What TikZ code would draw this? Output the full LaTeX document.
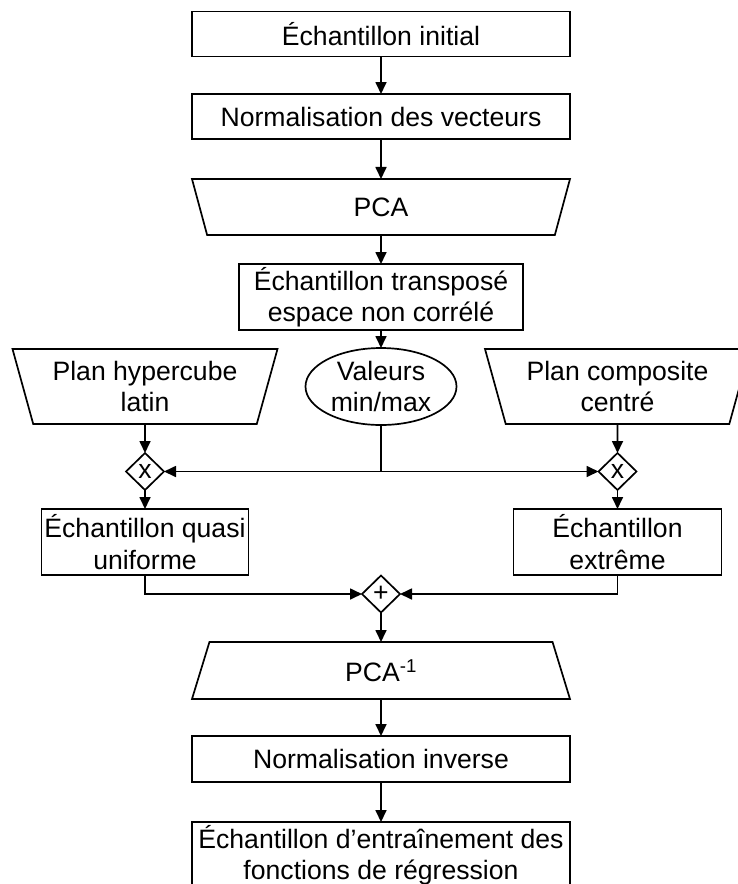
\documentclass[tikz,border=0pt]{standalone}
\usepackage{fontspec}
\setmainfont{Liberation Sans}
\usetikzlibrary{arrows.meta, positioning, shapes.geometric}

\begin{document}
\begin{tikzpicture}[
    x=1pt, y=-1pt,
    line width=1.7pt,
    every node/.style={font=\fontsize{26.6}{31.5}\selectfont, outer sep=0pt},
    box/.style={draw, minimum width=378pt, minimum height=45pt,
                inner sep=0pt, align=center},
    tallbox/.style={box, minimum height=66pt},
    trap/.style={draw, trapezium, trapezium stretches body,
                 inner sep=0pt, align=center},
    opnode/.style={draw, diamond, minimum width=38pt, minimum height=37pt,
                 inner sep=0pt},
    arrow/.style={-{Triangle[length=12pt, width=11pt]}},
    node distance=40pt
]
\useasboundingbox (0,0) rectangle (737,884);

\node[box] (b1) at (381,34) {Échantillon initial};
\node[box, below=37.5pt of b1] (b2) {Normalisation des vecteurs};
\node[trap, trapezium left angle=128.8, trapezium right angle=128.8,
      minimum width=378pt, minimum height=56pt, below=of b2] (pca) {PCA};
\node[tallbox, minimum width=284pt, below=29pt of pca] (b3)
     {Échantillon transposé\\espace non corrélé};
\node[draw, ellipse, minimum width=151pt, minimum height=77pt,
      inner xsep=0pt, inner ysep=-6pt, align=center, below=18pt of b3] (mm)
     {Valeurs\\min/max};

\node[trap, trapezium left angle=112.1, trapezium right angle=112.1,
      minimum width=265pt, minimum height=75pt] (lhs) at (145,386.5)
     {Plan hypercube\\latin};
\node[trap, trapezium left angle=112.1, trapezium right angle=112.1,
      minimum width=265pt, minimum height=75pt] (ccd) at (617.5,386.5)
     {Plan composite\\centré};

\node[opnode] (xl) at (145,471.5) {x};
\node[opnode] (xr) at (617.5,471.5) {x};
\node[tallbox, minimum width=207pt, below=19pt of xl] (bl)
     {Échantillon quasi\\uniforme};
\node[tallbox, minimum width=208pt, below=19pt of xr] (br)
     {Échantillon\\extrême};

\node[opnode] (plus) at (381,594) {+};
\node[trap, trapezium left angle=51.7, trapezium right angle=51.7,
      minimum width=378pt, minimum height=57pt, below=29.5pt of plus] (pcainv)
     {PCA\textsuperscript{-1}};
\node[box, minimum height=46pt, below=37pt of pcainv] (b4) {Normalisation inverse};
\node[tallbox, below=of b4] (b5)
     {Échantillon d’entraînement des\\fonctions de régression};

\coordinate (split) at (mm.south |- xl.center);

\draw[arrow] (b1) -- (b2);
\draw[arrow] (b2) -- (pca);
\draw[arrow] (pca) -- (b3);
\draw[arrow] (b3) -- (mm);
\draw[arrow] (lhs) -- (xl);
\draw[arrow] (ccd) -- (xr);
\draw (mm) -- (split);
\draw[arrow] (split) -- (xl.east);
\draw[arrow] (split) -- (xr.west);
\draw[arrow] (xl) -- (bl);
\draw[arrow] (xr) -- (br);
\draw[arrow] (bl.south) |- (plus.west);
\draw[arrow] (br.south) |- (plus.east);
\draw[arrow] (plus) -- (pcainv);
\draw[arrow] (pcainv) -- (b4);
\draw[arrow] (b4) -- (b5);
\end{tikzpicture}
\end{document}
